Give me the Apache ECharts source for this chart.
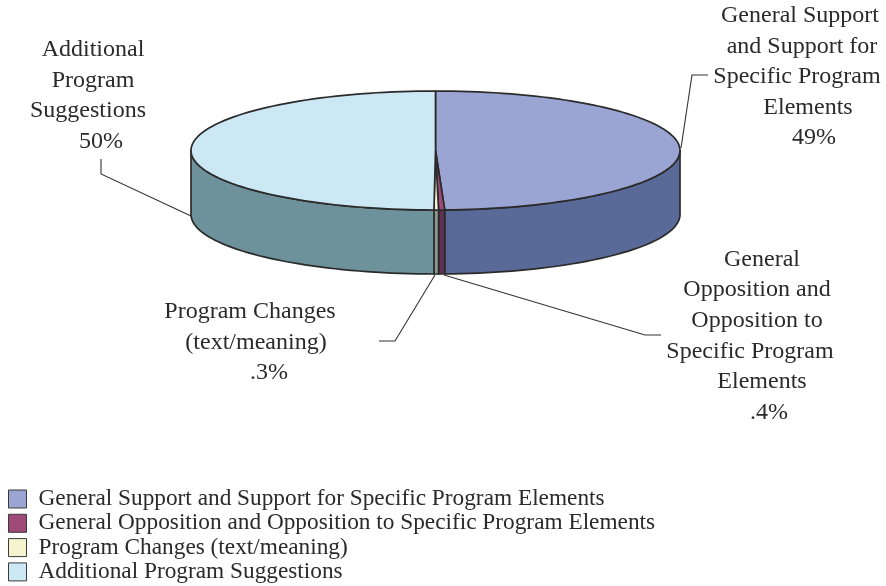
<!DOCTYPE html>
<html><head><meta charset="utf-8">
<style>html,body{margin:0;padding:0;background:#fff}#c{width:886px;height:586px}</style>
<script src="https://cdn.jsdelivr.net/npm/echarts@6/dist/echarts.min.js"></script>
</head><body><div id="c"></div>
<script>
const categories = ['General Support and Support for Specific Program Elements','General Opposition and Opposition to Specific Program Elements','Program Changes (text/meaning)','Additional Program Suggestions'];
const values = [49.4, 0.4, 0.3, 49.9];
const topColors = ['#9aa5d3','#a04a7a','#f6f4cf','#cbe8f4'];
const sideColors = ['#5a6a98','#5f3252','#8b9a8e','#6e929b'];
const labelFont = '24px "Liberation Serif"';
const labelLines = [
 ['General Support',800,16],['and Support for',802,47],['Specific Program',797,77],['Elements',808,108],['49%',814,138],
 ['Additional',93,50],['Program',93,81],['Suggestions',88,111],['50%',101,142],
 ['Program Changes',250,312],['(text/meaning)',256,343],['.3%',269,373],
 ['General',762,260],['Opposition and',757,290],['Opposition to',757,321],['Specific Program',750,352],['Elements',762,382],['.4%',769,413]
];
const leaders = [
 [[681,148],[692,75],[708,75]],
 [[101,159],[101,174],[191,216]],
 [[379,341],[395,341],[435,275]],
 [[444,275],[645,335],[661,335]]
];
const pie = {cx:435.5, cy:150.5, rx:244.5, ry:59.5, depth:64};
const total = values.reduce((a,b)=>a+b,0);
const STROKE = '#2b2b2b';
function pt(theta, dy){ // theta clockwise from top, degrees
  const r = theta*Math.PI/180;
  return [pie.cx+pie.rx*Math.sin(r), pie.cy-pie.ry*Math.cos(r)+(dy||0)];
}
function arc(a,b,dy){ const n=Math.max(2,Math.ceil(Math.abs(b-a)/2)); const out=[]; for(let i=0;i<=n;i++) out.push(pt(a+(b-a)*i/n,dy)); return out; }
function renderSlice(idx){
  return function(params, api){
    let before=0; for(let i=0;i<idx;i++) before+=values[i];
    const a=before/total*360, b=(before+api.value(0))/total*360;
    const children=[];
    const sa=Math.max(a,90), sb=Math.min(b,270);
    if(sb>sa){
      const front=arc(sa,sb,0), back=arc(sb,sa,pie.depth);
      children.push({type:'polygon',shape:{points:front.concat(back)},style:{fill:sideColors[idx],stroke:STROKE,lineWidth:1.7,lineJoin:'round'}});
    }
    children.push({type:'polygon',shape:{points:[[pie.cx,pie.cy]].concat(arc(a,b,0))},style:{fill:topColors[idx],stroke:STROKE,lineWidth:1.7,lineJoin:'round'}});
    return {type:'group',children};
  };
}
const chart = echarts.init(document.getElementById('c'),null,{renderer:'canvas'});
chart.setOption({
  animation:false,
  backgroundColor:'#fff',
  legend:{
    orient:'vertical',left:8,top:487.5,padding:0,itemGap:1.3,itemWidth:18,itemHeight:18,
    icon:'rect',data:categories,selectedMode:false,
    itemStyle:{borderColor:'#3a3a3a',borderWidth:1},
    textStyle:{fontFamily:'Liberation Serif',fontSize:23.3,lineHeight:18,color:'#2a2a2a',padding:[2,0,0,7]}
  },
  xAxis:{show:false},yAxis:{show:false},
  series:categories.map((name,i)=>({
    type:'custom',name,coordinateSystem:'none',
    itemStyle:{color:topColors[i]},
    data:[[values[i]]],
    renderItem:renderSlice(i),silent:true,z:2
  })),
  graphic:[
    ...leaders.map(p=>({type:'polyline',shape:{points:p},style:{fill:null,stroke:'#333',lineWidth:1.1},silent:true,z:3})),
    ...labelLines.map(l=>({type:'text',x:l[1],y:l[2],silent:true,z:4,style:{text:l[0],font:labelFont,fill:'#2a2a2a',textAlign:'center',textVerticalAlign:'middle'}}))
  ]
});
</script></body></html>
